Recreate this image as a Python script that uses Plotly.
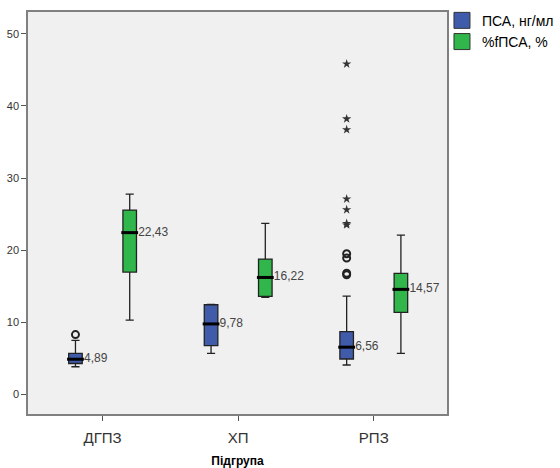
import plotly.graph_objects as go

# ---- data ----
groups = ["ДГПЗ", "ХП", "РПЗ"]

psa_lower = [3.85, 5.7, 4.09]
psa_q1 = [4.3, 6.76, 4.92]
psa_median = [4.89, 9.78, 6.56]
psa_q3 = [5.7, 12.44, 8.7]
psa_upper = [7.5, 12.5, 13.64]

fpsa_lower = [10.3, 13.45, 5.7]
fpsa_q1 = [16.97, 13.6, 11.38]
fpsa_median = [22.43, 16.22, 14.57]
fpsa_q3 = [25.55, 18.77, 16.79]
fpsa_upper = [27.77, 23.7, 22.09]

# outliers of ПСА
psa_out_group = ["ДГПЗ", "РПЗ", "РПЗ", "РПЗ", "РПЗ"]
psa_out_values = [8.3, 19.5, 18.9, 16.8, 16.6]
psa_ext_group = ["РПЗ", "РПЗ", "РПЗ", "РПЗ", "РПЗ", "РПЗ", "РПЗ"]
psa_ext_values = [45.8, 38.2, 36.7, 27.1, 25.6, 23.7, 23.5]

y_ticks = [0, 10, 20, 30, 40, 50]

series_names = ["ПСА, нг/мл", "%fПСА, %"]

# ---- style ----
BLUE = "#3F5BAA"
GREEN = "#30B64A"
OFFSET = 0.2
BOXW = 0.1
FONT = "Liberation Sans, Arial, sans-serif"

idx = {g: i for i, g in enumerate(groups)}
pos_blue = [idx[g] - OFFSET for g in groups]
pos_green = [idx[g] + OFFSET for g in groups]


def fmt(v):
    return f"{v:.2f}".replace(".", ",")


fig = go.Figure()

for pos, lo, q1, med, q3, up, col in [
    (pos_blue, psa_lower, psa_q1, psa_median, psa_q3, psa_upper, BLUE),
    (pos_green, fpsa_lower, fpsa_q1, fpsa_median, fpsa_q3, fpsa_upper, GREEN),
]:
    fig.add_trace(go.Box(
        x=pos, q1=q1, median=med, q3=q3, lowerfence=lo, upperfence=up,
        width=BOXW, whiskerwidth=0.6, boxpoints=False,
        fillcolor=col, line=dict(color="#222222", width=1.3),
        showlegend=False, hoverinfo="skip",
    ))
    fig.add_trace(go.Scatter(
        x=pos, y=med, mode="markers+text",
        text=[fmt(v) for v in med], textposition="middle right",
        textfont=dict(family=FONT, size=12, color="#444444"),
        marker=dict(symbol="line-ew", size=12,
                    line=dict(color="black", width=3)),
        showlegend=False, hoverinfo="skip",
    ))

fig.add_trace(go.Scatter(
    x=[idx[g] - OFFSET for g in psa_out_group], y=psa_out_values,
    mode="markers",
    marker=dict(symbol="circle-open", size=7, color="#222222",
                line=dict(width=2, color="#222222")),
    showlegend=False, hoverinfo="skip",
))
fig.add_trace(go.Scatter(
    x=[idx[g] - OFFSET for g in psa_ext_group], y=psa_ext_values,
    mode="markers",
    marker=dict(symbol="star", size=7, color="#333333",
                line=dict(width=0)),
    showlegend=False, hoverinfo="skip",
))

# legend entries
for name, col in zip(series_names, [BLUE, GREEN]):
    fig.add_trace(go.Scatter(
        x=[None], y=[None], mode="markers", name=name,
        marker=dict(symbol="square", size=16, color=col,
                    line=dict(color="#333333", width=1)),
    ))

fig.update_layout(
    width=560, height=468,
    margin=dict(l=28, r=113, t=12, b=54, autoexpand=False),
    paper_bgcolor="white",
    plot_bgcolor="#F0F0F0",
    font=dict(family=FONT, color="#333333"),
    boxmode="overlay",
    legend=dict(x=0.988, y=1.018, xanchor="left", yanchor="top",
                font=dict(family=FONT, size=14, color="black"),
                itemwidth=30, tracegroupgap=0,
                bgcolor="rgba(0,0,0,0)", borderwidth=0),
)
fig.update_xaxes(
    range=[-0.55, 2.54],
    tickvals=list(range(len(groups))), ticktext=groups,
    ticks="outside", ticklen=5, tickcolor="#555555",
    ticklabelstandoff=4,
    tickfont=dict(family=FONT, size=15, color="#333333"),
    showline=True, linecolor="#808080", linewidth=1.5, mirror=True,
    showgrid=False, zeroline=False, automargin=False,
    title=dict(text="<b>Підгрупа</b>", standoff=12,
               font=dict(family=FONT, size=12, color="black")),
)
fig.update_yaxes(
    range=[-2.7, 53],
    tickvals=y_ticks,
    ticks="outside", ticklen=5, tickcolor="#555555",
    tickfont=dict(family=FONT, size=11, color="#333333"),
    showline=True, linecolor="#808080", linewidth=1.5, mirror=True,
    showgrid=False, zeroline=False, automargin=False,
)

fig.write_html(
    "out.html",
    config={"displayModeBar": False},
    post_script="document.body.style.margin='0';document.body.style.overflow='hidden';",
)
